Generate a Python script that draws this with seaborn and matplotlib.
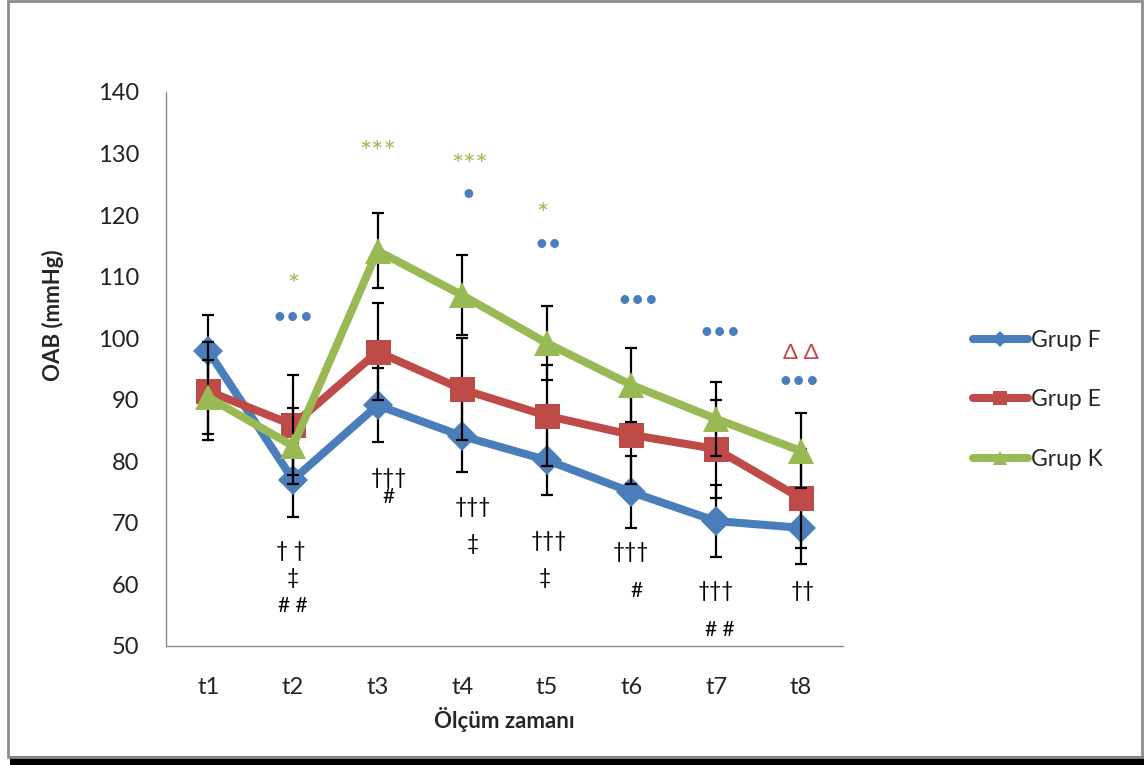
import numpy as np
import pandas as pd
import matplotlib
matplotlib.use("Agg")
import matplotlib.pyplot as plt
from matplotlib.lines import Line2D
from matplotlib.patches import Rectangle
from matplotlib.transforms import offset_copy
import seaborn as sns

# ---------------- data ----------------
times = ["t1", "t2", "t3", "t4", "t5", "t6", "t7", "t8"]
groups = ["Grup F", "Grup E", "Grup K"]
grup_f = [97.9, 77.0, 89.1, 84.1, 80.2, 75.0, 70.3, 69.2]
grup_e = [91.4, 85.9, 97.8, 91.7, 87.4, 84.3, 82.0, 74.0]
grup_k = [90.4, 82.5, 114.2, 107.0, 99.2, 92.4, 86.9, 81.7]
sd_f = [5.9, 6.0, 6.0, 5.8, 5.7, 5.8, 5.9, 5.9]
sd_e = [8.0, 8.1, 7.9, 8.3, 8.2, 8.0, 8.0, 8.0]
sd_k = [6.0, 6.2, 6.1, 6.5, 6.0, 6.0, 6.0, 6.1]

# significance annotations: (x position in category units, y value, text, colour key)
annotations = [
    (1.0, 109.8, "*", "K"), (1.0, 103.3, "•••", "F"),
    (0.98, 65.4, "† †", "n"), (1.0, 61.0, "‡", "n"), (1.0, 56.5, "# #", "n"),
    (2.0, 131.4, "***", "K"), (2.13, 77.3, "†††", "n"), (2.13, 74.2, "#", "n"),
    (3.09, 129.4, "***", "K"), (3.07, 123.3, "•", "F"),
    (3.13, 72.6, "†††", "n"), (3.13, 66.6, "‡", "n"),
    (3.95, 121.3, "*", "K"), (4.02, 115.3, "••", "F"),
    (4.02, 67.1, "†††", "n"), (3.98, 61.0, "‡", "n"),
    (5.08, 106.2, "•••", "F"), (4.99, 65.3, "†††", "n"), (5.06, 58.9, "#", "n"),
    (6.05, 101.0, "•••", "F"), (6.0, 58.9, "†††", "n"), (6.05, 52.6, "# #", "n"),
    (7.0, 97.6, "Δ Δ", "E"), (6.98, 92.9, "•••", "F"), (7.03, 58.9, "††", "n"),
]

# ---------------- style ----------------
sns.set_theme(style="white")
FONT = ["Lato", "DejaVu Sans"]
plt.rcParams["font.family"] = FONT

colors = {"Grup F": "#4A7EBB", "Grup E": "#BE4B48", "Grup K": "#98B954"}
ann_colors = {"F": "#4A7EBB", "E": "#BE4B48", "K": "#98B954", "n": "black"}
markers = {"Grup F": "D", "Grup E": "s", "Grup K": "^"}
msizes = {"Grup F": 15, "Grup E": 18, "Grup K": 19}

df = pd.DataFrame({
    "time": np.tile(times, len(groups)),
    "pos": np.tile(np.arange(len(times)), len(groups)),
    "group": np.repeat(groups, len(times)),
    "value": grup_f + grup_e + grup_k,
    "sd": sd_f + sd_e + sd_k,
})

fig = plt.figure(figsize=(11.44, 7.65), dpi=100)
ax = fig.add_axes([166 / 1144, (765 - 646) / 765, 677 / 1144, 554 / 765])

for i, g in enumerate(groups):
    sub = df[df["group"] == g]
    ax.errorbar(sub["pos"], sub["value"], yerr=sub["sd"], fmt="none",
                ecolor="black", elinewidth=1.6, capsize=4.5, capthick=1.6,
                zorder=2 + 2 * i)
    sns.lineplot(data=sub, x="pos", y="value", color=colors[g], marker=markers[g],
                 markersize=msizes[g], markeredgewidth=0, linewidth=5.8,
                 ax=ax, legend=False, zorder=3 + 2 * i)

for x, y, txt, c in annotations:
    if "*" in txt:
        fs = 21
        tr = offset_copy(ax.transData, fig=fig, x=0, y=-0.32 * fs, units="points")
    elif "•" in txt:
        fs = 17
        tr = ax.transData
    elif "Δ" in txt:
        fs = 16
        tr = ax.transData
    else:
        fs = 15
        tr = ax.transData
    ax.text(x, y, txt, color=ann_colors[c], ha="center", va="center",
            fontsize=fs, family=FONT, zorder=20, transform=tr)

ax.set_xlim(-0.5, len(times) - 0.5)
ax.set_ylim(50, 140)
ax.set_yticks(np.arange(50, 141, 10))
ax.set_xticks(np.arange(len(times)))
ax.set_xticklabels(times)
ax.tick_params(axis="y", length=0, pad=19, labelsize=17, colors="#222222")
ax.tick_params(axis="x", length=0, pad=22, labelsize=17, colors="#222222")

for s in ["top", "right"]:
    ax.spines[s].set_visible(False)
for s in ["left", "bottom"]:
    ax.spines[s].set_color("#8a8a8a")
    ax.spines[s].set_linewidth(1.0)

ax.set_xlabel("Ölçüm zamanı", fontsize=16, fontweight="bold")
ax.set_ylabel("OAB (mmHg)", fontsize=16, fontweight="bold")
ax.xaxis.label.set_va("center")
ax.yaxis.label.set_va("center")
ax.xaxis.set_label_coords(0.5, (646 - 720) / 554)
ax.yaxis.set_label_coords((53 - 166) / 677, (646 - 315) / 554)

handles = [Line2D([0], [0], color=colors[g], lw=5.8, marker=markers[g],
                  markersize=msizes[g] * 0.55, markeredgewidth=0,
                  solid_capstyle="round") for g in groups]
fig.legend(handles, groups, loc="center left",
           bbox_to_anchor=(952 / 1144, (765 - 400) / 765), frameon=False,
           fontsize=16.5, handlelength=2.4, handletextpad=0.15,
           labelspacing=1.7)

# outer chart frame with shadow
fig.patches.append(Rectangle((10 / 1144, 0), 1134 / 1144, 9 / 765,
                             transform=fig.transFigure, facecolor="black",
                             edgecolor="none", zorder=0))
fig.patches.append(Rectangle((8 / 1144, 8 / 765), 1134 / 1144, 756 / 765,
                             transform=fig.transFigure, facecolor="none",
                             edgecolor="#8c8c8c", lw=2, zorder=1))

fig.savefig("out.png", dpi=100)
